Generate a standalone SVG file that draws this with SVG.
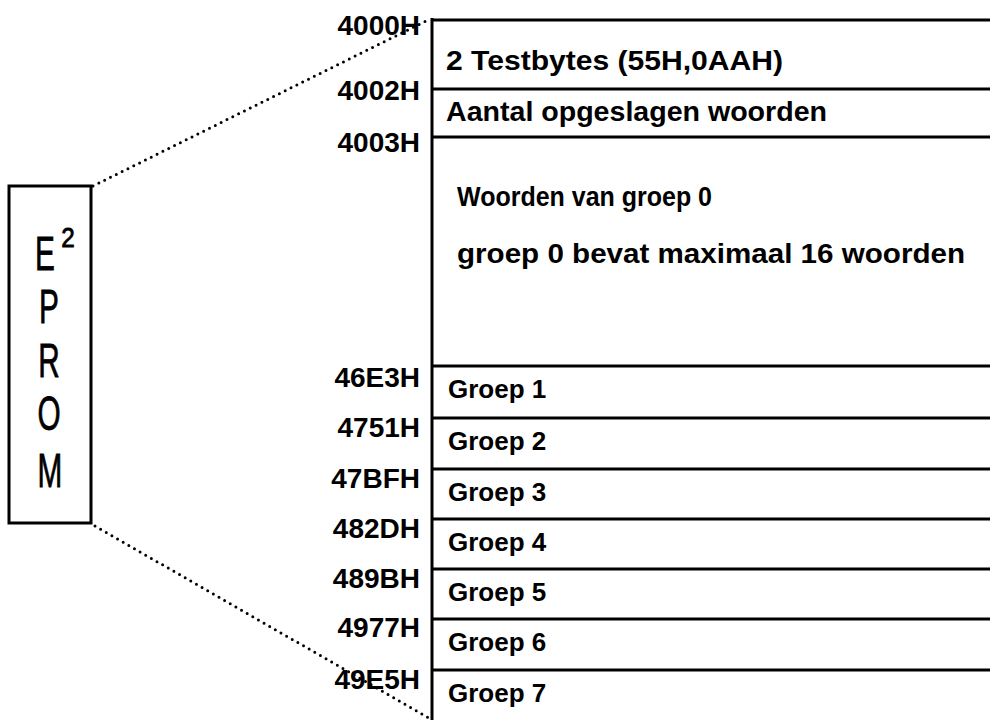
<svg xmlns="http://www.w3.org/2000/svg" width="990" height="720" viewBox="0 0 990 720">
  <style>
    .lbl { font-family: "Liberation Sans", Arial, sans-serif; font-size: 26px; font-weight: bold; fill: #000; }
    .big { font-size: 28px; }
    .addr { font-family: "Liberation Sans", Arial, sans-serif; font-size: 28px; font-weight: bold; fill: #000; text-anchor: end; }
    .chip { font-family: "Liberation Sans", Arial, sans-serif; font-size: 48px; fill: #000; stroke: #000; stroke-width: 0.8; text-anchor: middle; }
    .rule { stroke: #000; stroke-width: 3; fill: none; }
    .dots { stroke: #000; stroke-width: 3; stroke-linecap: round; stroke-dasharray: 0 6.5; fill: none; }
  </style>
  <rect width="990" height="720" fill="#fff"/>

  <!-- connectors: the chip expanded into its memory map -->
  <g id="connectors">
    <line class="dots" x1="93" y1="186" x2="430" y2="19"/>
    <line class="dots" x1="95" y1="526" x2="429" y2="718"/>
  </g>

  <!-- the E2PROM chip -->
  <g id="eprom">
    <rect x="9" y="186" width="82" height="337" fill="#fff" stroke="#000" stroke-width="3"/>
    <text class="chip" transform="translate(45,270) scale(0.62,1)">E</text>
    <text class="chip" style="font-size:27px" transform="translate(68,247) scale(0.9,1)">2</text>
    <text class="chip" transform="translate(49,323) scale(0.62,1)">P</text>
    <text class="chip" transform="translate(49,377) scale(0.62,1)">R</text>
    <text class="chip" transform="translate(49,430) scale(0.62,1)">O</text>
    <text class="chip" transform="translate(50,487) scale(0.62,1)">M</text>
  </g>

  <!-- memory map frame -->
  <g id="map-frame">
    <line class="rule" x1="432" y1="18" x2="432" y2="720"/>
    <line class="rule" x1="432" y1="20" x2="990" y2="20"/>
  </g>

  <g id="testbytes">
    <text class="addr" x="420" y="35">4000H</text>
    <text class="lbl big" x="446" y="70" textLength="337" lengthAdjust="spacingAndGlyphs">2 Testbytes (55H,0AAH)</text>
    <line class="rule" x1="432" y1="89" x2="990" y2="89"/>
  </g>

  <g id="count">
    <text class="addr" x="420" y="100">4002H</text>
    <text class="lbl big" x="446" y="121" textLength="381" lengthAdjust="spacingAndGlyphs">Aantal opgeslagen woorden</text>
    <line class="rule" x1="432" y1="137" x2="990" y2="137"/>
  </g>

  <g id="group0">
    <text class="addr" x="420" y="152">4003H</text>
    <text class="lbl big" x="457" y="206" textLength="255" lengthAdjust="spacingAndGlyphs">Woorden van groep 0</text>
    <text class="lbl big" x="457" y="263" textLength="508" lengthAdjust="spacingAndGlyphs">groep 0 bevat maximaal 16 woorden</text>
  </g>

  <g id="group1">
    <line class="rule" x1="432" y1="366" x2="990" y2="366"/>
    <text class="addr" x="420" y="387">46E3H</text>
    <text class="lbl" x="448" y="398">Groep 1</text>
  </g>

  <g id="group2">
    <line class="rule" x1="432" y1="418" x2="990" y2="418"/>
    <text class="addr" x="420" y="437">4751H</text>
    <text class="lbl" x="448" y="450">Groep 2</text>
  </g>

  <g id="group3">
    <line class="rule" x1="432" y1="469" x2="990" y2="469"/>
    <text class="addr" x="420" y="488">47BFH</text>
    <text class="lbl" x="448" y="501">Groep 3</text>
  </g>

  <g id="group4">
    <line class="rule" x1="432" y1="519" x2="990" y2="519"/>
    <text class="addr" x="420" y="538">482DH</text>
    <text class="lbl" x="448" y="551">Groep 4</text>
  </g>

  <g id="group5">
    <line class="rule" x1="432" y1="569" x2="990" y2="569"/>
    <text class="addr" x="420" y="588">489BH</text>
    <text class="lbl" x="448" y="601">Groep 5</text>
  </g>

  <g id="group6">
    <line class="rule" x1="432" y1="619" x2="990" y2="619"/>
    <text class="addr" x="420" y="637">4977H</text>
    <text class="lbl" x="448" y="651">Groep 6</text>
  </g>

  <g id="group7">
    <line class="rule" x1="432" y1="670" x2="990" y2="670"/>
    <text class="addr" x="420" y="689">49E5H</text>
    <text class="lbl" x="448" y="702">Groep 7</text>
  </g>
</svg>
